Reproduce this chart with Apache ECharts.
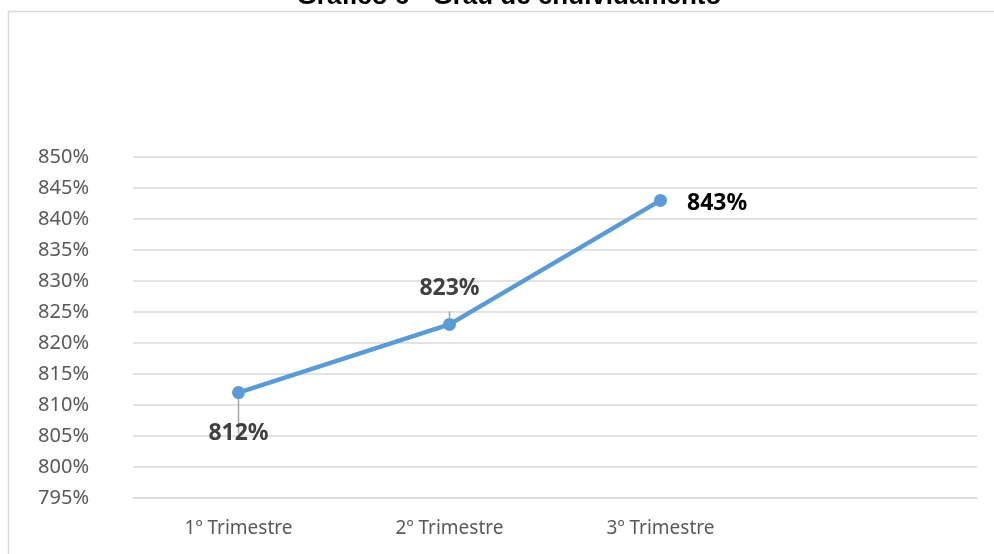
<!DOCTYPE html>
<html>
<head>
<meta charset="utf-8">
<script src="https://cdn.jsdelivr.net/npm/echarts@6/dist/echarts.min.js"></script>
<style>
html,body{margin:0;padding:0;background:#fff;}
#chart{width:994px;height:554px;}
</style>
</head>
<body>
<div id="chart"></div>
<script>
// dados do gráfico
var categorias = ['1º Trimestre', '2º Trimestre', '3º Trimestre', ''];
var valores = [812, 823, 843, null];
var rotulos = ['812%', '823%', '843%', ''];

var myChart = echarts.init(document.getElementById('chart'));

// posição de cada rótulo
var labelPos = [
    {position: 'bottom', distance: 23, offset: [0, 0], color: '#404040', linha: true},
    {position: 'top', distance: 18, offset: [0, 0], color: '#404040', linha: true},
    {position: 'right', distance: 20, offset: [0, 3], color: '#000000', linha: false},
    {position: 'top', distance: 0, offset: [0, 0], color: '#404040', linha: false}
];

var dados = valores.map(function (v, i) {
    return {
        value: v == null ? '-' : v,
        label: {
            position: labelPos[i].position,
            distance: labelPos[i].distance,
            offset: labelPos[i].offset,
            color: labelPos[i].color,
            formatter: rotulos[i]
        },
        labelLine: {show: labelPos[i].linha}
    };
});

var option = {
    animation: false,
    backgroundColor: '#fff',
    graphic: [{
        type: 'rect',
        shape: {x: 8.5, y: 11.5, width: 1000, height: 600},
        style: {fill: 'none', stroke: '#d9d9d9', lineWidth: 1.5},
        z: -1
    }, {
        type: 'text',
        x: 509,
        y: -3,
        style: {
            text: 'Gráfico 6 - Grau de endividamento',
            font: 'bold 26px "Liberation Sans", Arial, sans-serif',
            fill: '#000',
            align: 'center',
            verticalAlign: 'middle'
        }
    }],
    grid: {left: 133, right: 17, top: 157, bottom: 56},
    xAxis: {
        type: 'category',
        data: categorias,
        boundaryGap: true,
        axisLine: {lineStyle: {color: '#d9d9d9', width: 1.5}},
        axisTick: {show: false},
        axisLabel: {
            color: '#595959',
            fontFamily: 'Noto Sans',
            fontSize: 19,
            margin: 21
        }
    },
    yAxis: {
        type: 'value',
        min: 795,
        max: 850,
        interval: 5,
        axisLine: {show: false},
        axisTick: {show: false},
        splitLine: {lineStyle: {color: '#d9d9d9', width: 1.5}},
        axisLabel: {
            color: '#595959',
            fontFamily: 'Noto Sans',
            fontSize: 20,
            margin: 44,
            formatter: '{value}%'
        }
    },
    series: [{
        type: 'line',
        data: dados,
        symbol: 'circle',
        symbolSize: 13,
        lineStyle: {color: '#5b9bd5', width: 4.5},
        itemStyle: {color: '#5b9bd5'},
        label: {
            show: true,
            fontFamily: 'Noto Sans',
            fontWeight: 'bold',
            fontSize: 23
        },
        labelLine: {
            show: true,
            lineStyle: {color: '#a6a6a6', width: 1.5}
        }
    }]
};

myChart.setOption(option);
</script>
</body>
</html>
